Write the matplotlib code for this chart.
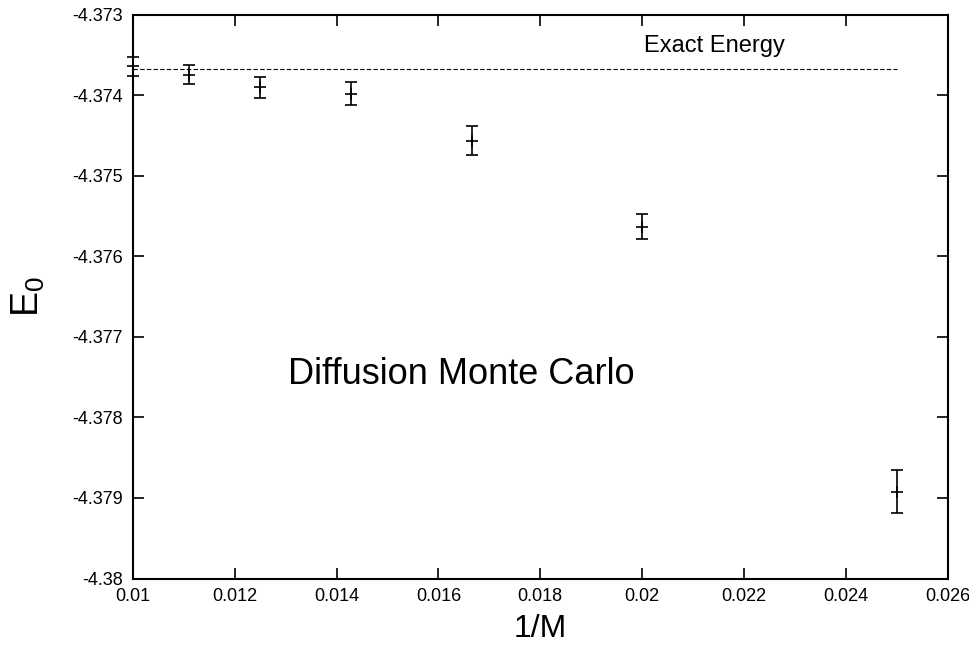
import matplotlib
matplotlib.use("Agg")
import matplotlib.pyplot as plt
import numpy as np

# Data
inv_M = [1/100, 1/90, 1/80, 1/70, 1/60, 1/50, 1/40]
E0 = [-4.37364, -4.37374, -4.37390, -4.37398, -4.374565, -4.37563, -4.37892]
E0_err = [0.000116, 0.000114, 0.00013, 0.000143, 0.00018, 0.000159, 0.000266]
exact_energy = -4.37367
exact_range = [0.01, 0.025]

xticks = [0.01, 0.012, 0.014, 0.016, 0.018, 0.02, 0.022, 0.024, 0.026]
xticklabels = ["0.01", "0.012", "0.014", "0.016", "0.018", "0.02", "0.022", "0.024", "0.026"]
yticks = [-4.38, -4.379, -4.378, -4.377, -4.376, -4.375, -4.374, -4.373]
yticklabels = ["-4.38", "-4.379", "-4.378", "-4.377", "-4.376", "-4.375", "-4.374", "-4.373"]

plt.rcParams['font.family'] = ['Liberation Sans', 'DejaVu Sans']
plt.rcParams['mathtext.fontset'] = 'custom'
plt.rcParams['mathtext.rm'] = 'Liberation Sans'
plt.rcParams['mathtext.it'] = 'Liberation Sans'

fig = plt.figure(figsize=(9.7, 6.5), dpi=100)
ax = fig.add_axes([0.137, 0.110, 0.977 - 0.137, 0.977 - 0.110])

ax.plot(exact_range, [exact_energy, exact_energy], color='black', lw=0.8,
        linestyle=(0, (4, 2)))
eb = ax.errorbar(inv_M, E0, yerr=E0_err, fmt='+', color='black', ms=9, mew=1.2,
                 elinewidth=1.2, capsize=4.5, capthick=1.2)
for artist in eb.lines[0:1] + tuple(eb.lines[1]) + tuple(eb.lines[2]):
    artist.set_clip_on(False)

ax.text(0.02003, -4.37339, "Exact Energy", fontsize=17, va='center', ha='left')
ax.text(0.01304, -4.37746, "Diffusion Monte Carlo", fontsize=26, va='center', ha='left')

ax.set_xlim(0.01, 0.026)
ax.set_ylim(-4.38, -4.373)
ax.set_xticks(xticks)
ax.set_xticklabels(xticklabels, fontsize=13)
ax.set_yticks(yticks)
ax.set_yticklabels(yticklabels, fontsize=13)
ax.tick_params(direction='in', length=8, width=1.2, top=True, right=True, pad=7)
for s in ax.spines.values():
    s.set_linewidth(1.5)

ax.set_xlabel("1/M", fontsize=23, labelpad=6)
ax.set_ylabel("E$_\\mathrm{0}$", fontsize=27, labelpad=18)

fig.savefig("out.png", dpi=100)
